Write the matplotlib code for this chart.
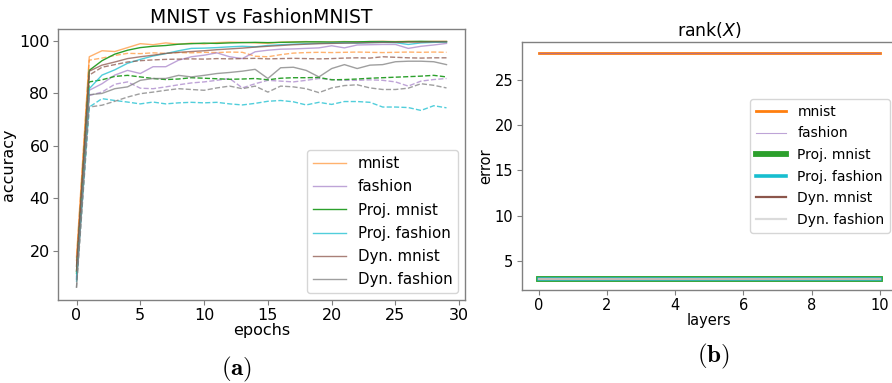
import matplotlib
matplotlib.use("Agg")
import matplotlib.pyplot as plt
import numpy as np

# ---- accuracy curves (epochs 0..29) ----
epochs = np.arange(30)

mnist_train = [17.5, 94.0, 96.3, 96.0, 97.5, 99.0, 98.6, 99.3, 98.8, 99.2,
               98.9, 99.4, 99.6, 99.5, 99.3, 99.1, 99.6, 99.7, 99.8, 99.6,
               99.7, 99.8, 99.7, 99.8, 99.9, 99.8, 99.9, 99.7, 99.9, 99.9]
mnist_test = [16.0, 92.7, 93.5, 94.5, 95.3, 95.2, 95.5, 95.3, 95.6, 95.5,
              95.7, 95.6, 95.8, 95.7, 94.2, 94.0, 94.8, 95.4, 95.6, 95.7,
              95.6, 95.7, 95.8, 95.7, 95.6, 95.7, 95.8, 95.7, 95.8, 95.7]
fashion_train = [10.0, 81.2, 83.7, 87.0, 88.8, 87.6, 90.2, 90.2, 92.7, 94.0,
                 94.6, 95.5, 94.0, 93.3, 95.9, 96.5, 96.9, 97.0, 97.2, 97.4,
                 98.2, 97.4, 98.5, 98.6, 98.7, 98.7, 97.2, 98.0, 98.5, 99.1]
fashion_test = [9.0, 79.2, 80.5, 83.5, 84.4, 82.0, 81.8, 82.5, 83.3, 84.0,
                84.4, 85.0, 85.7, 82.1, 83.7, 85.0, 84.7, 84.4, 85.0, 85.7,
                85.3, 85.0, 85.0, 85.2, 85.0, 84.4, 82.8, 84.7, 85.3, 85.7]
proj_mnist_train = [12.0, 88.8, 92.5, 95.0, 96.5, 97.5, 98.0, 98.3, 98.8, 99.0,
                    99.2, 99.1, 99.3, 99.4, 99.5, 99.4, 99.5, 99.6, 99.7, 99.7,
                    99.6, 99.7, 99.7, 99.8, 99.8, 99.7, 99.8, 99.9, 99.8, 99.8]
proj_mnist_test = [11.0, 84.4, 85.2, 86.5, 86.9, 86.3, 85.7, 85.3, 85.5, 86.0,
                   85.8, 85.6, 85.4, 85.5, 85.7, 85.2, 85.8, 86.0, 86.0, 86.1,
                   85.2, 85.3, 85.5, 85.8, 86.0, 86.2, 86.4, 86.6, 86.9, 86.3]
proj_fashion_train = [9.0, 81.8, 87.0, 89.0, 91.5, 93.0, 94.3, 95.2, 96.3, 97.2,
                      97.3, 97.5, 97.8, 98.0, 97.8, 98.3, 98.6, 98.8, 99.0, 99.1,
                      99.2, 99.3, 99.2, 99.4, 99.5, 99.4, 98.7, 99.3, 99.5, 99.6]
proj_fashion_test = [8.0, 74.8, 78.0, 77.3, 76.7, 76.0, 76.7, 76.0, 76.4, 76.6,
                     76.4, 76.6, 76.0, 75.6, 76.2, 77.0, 77.3, 76.8, 75.6, 76.6,
                     75.8, 76.9, 76.9, 76.6, 74.8, 74.8, 74.6, 73.5, 75.3, 74.5]
dyn_mnist_train = [14.0, 88.5, 90.8, 92.0, 93.3, 94.0, 94.6, 95.3, 95.7, 96.0,
                   96.3, 96.7, 97.0, 97.3, 97.7, 98.0, 98.3, 98.6, 98.8, 99.0,
                   99.1, 99.2, 99.3, 99.4, 99.5, 99.5, 99.6, 99.6, 99.7, 99.7]
dyn_mnist_test = [12.0, 87.0, 90.0, 91.0, 92.0, 92.5, 92.8, 93.0, 93.1, 93.2,
                  93.1, 93.3, 93.2, 93.3, 93.4, 93.2, 93.3, 93.4, 93.3, 93.2,
                  93.3, 93.5, 93.6, 93.5, 94.0, 93.8, 93.6, 93.5, 93.6, 93.6]
dyn_fashion_train = [6.0, 79.5, 80.0, 81.8, 82.5, 85.0, 85.7, 85.7, 86.9, 86.3,
                     86.9, 87.6, 88.0, 88.5, 89.2, 85.7, 89.8, 90.0, 88.8, 86.3,
                     89.5, 91.0, 89.5, 90.8, 91.0, 92.1, 92.3, 92.3, 92.1, 91.0]
dyn_fashion_test = [5.8, 74.8, 75.5, 77.0, 78.6, 79.9, 80.5, 81.2, 81.8, 81.5,
                    81.2, 82.1, 82.8, 81.8, 82.8, 80.5, 82.8, 82.5, 81.8, 80.3,
                    82.1, 83.0, 83.3, 82.1, 81.5, 81.5, 82.0, 83.7, 83.1, 82.1]

# ---- rank per layer ----
layers = np.arange(11)
rank_mnist = [28] * 11
rank_fashion = [28] * 11
rank_proj_mnist = [3] * 11
rank_proj_fashion = [3] * 11
rank_dyn_mnist = [3] * 11
rank_dyn_fashion = [3] * 11

labels = ["mnist", "fashion", "Proj. mnist", "Proj. fashion", "Dyn. mnist", "Dyn. fashion"]

fig = plt.figure(figsize=(8.92, 3.83), dpi=100)
W, H = 892, 383


def axes_px(x0, y0, x1, y1):
    return fig.add_axes([x0 / W, 1 - y1 / H, (x1 - x0) / W, (y1 - y0) / H])


def style_axes(ax, fs):
    for s in ax.spines.values():
        s.set_color("0.5")
        s.set_linewidth(1.0)
    ax.tick_params(labelsize=fs, color="0.5", length=3.5, pad=2.5)


# ---- left: accuracy ----
ax1 = axes_px(58, 29, 465, 300)
style_axes(ax1, 11.5)
curves = [
    (mnist_train, mnist_test, "tab:orange", 0.6),
    (fashion_train, fashion_test, "tab:purple", 0.6),
    (proj_mnist_train, proj_mnist_test, "tab:green", 1.0),
    (proj_fashion_train, proj_fashion_test, "tab:cyan", 0.75),
    (dyn_mnist_train, dyn_mnist_test, "tab:brown", 0.75),
    (dyn_fashion_train, dyn_fashion_test, "tab:gray", 0.75),
]
for (tr, te, c, a), lab in zip(curves, labels):
    ax1.plot(epochs, tr, color=c, alpha=a, lw=1.0, label=lab)
    ax1.plot(epochs, te, color=c, alpha=a, lw=1.0, ls="--")
ax1.set_xticks([0, 5, 10, 15, 20, 25, 30])
ax1.set_yticks([20, 40, 60, 80, 100])
ax1.set_xlabel("epochs", fontsize=11.5, labelpad=0)
ax1.set_ylabel("accuracy", fontsize=11.5, labelpad=2)
ax1.set_title("MNIST vs FashionMNIST", fontsize=13.5, pad=4)
ax1.legend(loc="lower right", fontsize=10.8, handlelength=2.2, labelspacing=0.55,
           borderaxespad=0.45)

# ---- right: rank ----
ax2 = axes_px(521.5, 41.7, 897, 290)
style_axes(ax2, 10.5)
ax2.plot(layers, rank_mnist, color="tab:orange", lw=2.0, label=labels[0])
ax2.plot(layers, rank_fashion, color="tab:purple", lw=0.8, alpha=0.6, label=labels[1])
ax2.plot(layers, rank_proj_mnist, color="tab:green", lw=4.2, label=labels[2])
ax2.plot(layers, rank_proj_fashion, color="tab:cyan", lw=2.6, label=labels[3])
ax2.plot(layers, rank_dyn_mnist, color="tab:brown", lw=1.6, label=labels[4])
ax2.plot(layers, rank_dyn_fashion, color="lightgray", lw=1.6, alpha=0.8, label=labels[5])
ax2.set_xticks([0, 2, 4, 6, 8, 10])
ax2.set_yticks([5, 10, 15, 20, 25])
ax2.set_xlabel("layers", fontsize=10.5, labelpad=0)
ax2.set_ylabel("error", fontsize=10.5, labelpad=1)
ax2.set_title(r"rank$(X)$", fontsize=12.5, pad=4)
ax2.legend(loc="center right", fontsize=10.0, handlelength=2.2, labelspacing=0.55)

# sub-figure captions
fig.text(237 / W, 1 - 369 / H, r"$\mathbf{(a)}$", fontsize=18, math_fontfamily="cm",
         ha="center", va="center")
fig.text(713 / W, 1 - 356 / H, r"$\mathbf{(b)}$", fontsize=18, math_fontfamily="cm",
         ha="center", va="center")

fig.savefig("out.png", dpi=100)
